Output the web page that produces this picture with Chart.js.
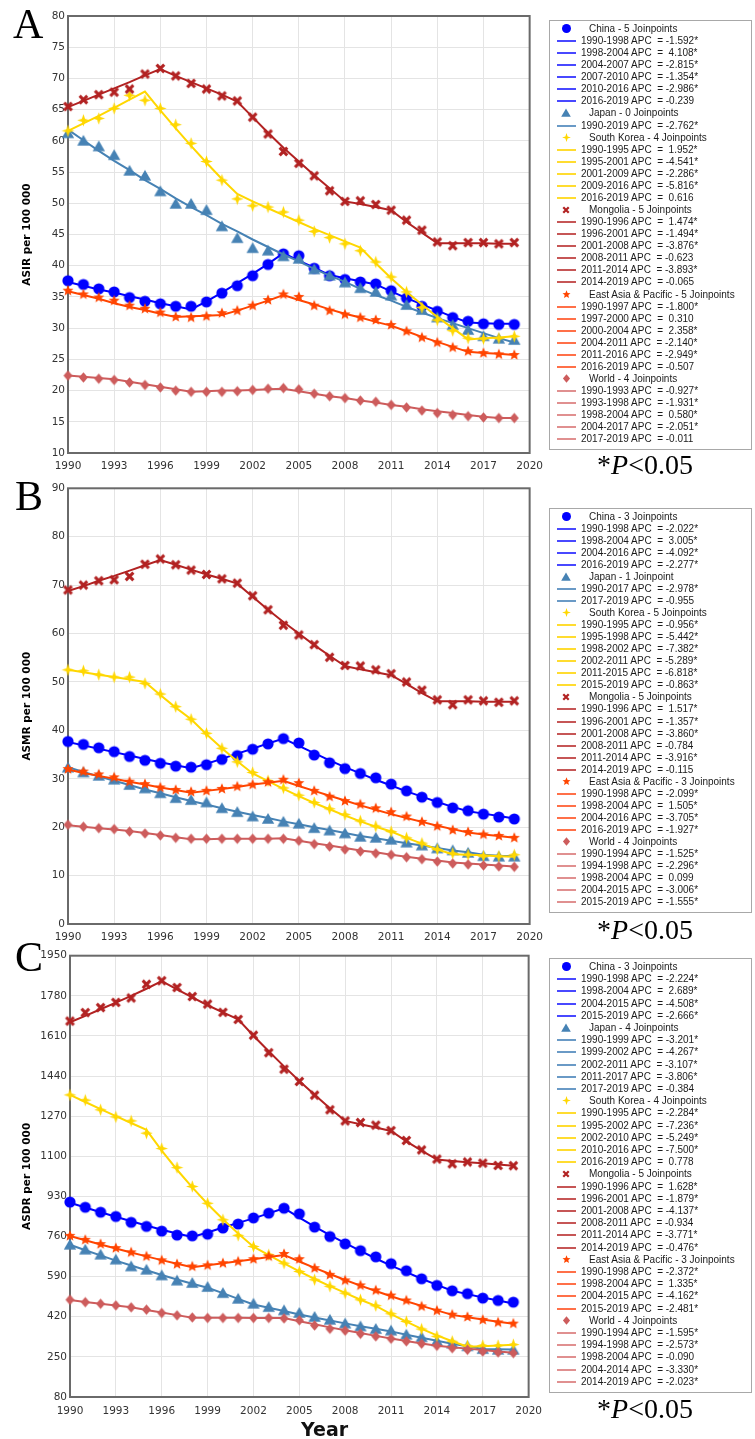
<!DOCTYPE html>
<html>
<head>
<meta charset="utf-8">
<script src="https://cdn.jsdelivr.net/npm/chart.js@4.4.0/dist/chart.umd.min.js"></script>
<style>
  body { margin: 0; width: 755px; height: 1439px; background: #fff; position: relative; overflow: hidden; }
  canvas.plot { position: absolute; left: 0; }
  .letter { position: absolute; font: 42px/42px "Liberation Serif", "Times New Roman", serif; color: #000; }
  .pnote { position: absolute; left: 545px; width: 200px; text-align: center; font: 28px/28px "Liberation Serif", "Times New Roman", serif; color: #000; }
  .year { position: absolute; left: 301px; top: 1420px; font: bold 19px/19px "DejaVu Sans", Verdana, sans-serif; color: #111; }
  .legend { position: absolute; left: 549px; width: 201px; border: 1px solid #a8a8a8; font: 10px "Liberation Sans", Arial, sans-serif; color: #1a1a1a; }
  .row { position: absolute; left: 0; right: 0; white-space: pre; }
  .row span { position: absolute; }
  .row .smp { left: 7px; width: 19px; height: 2px; }
</style>
</head>
<body>
<canvas class="plot" id="cA" width="550" height="478" style="top:0px"></canvas>
<canvas class="plot" id="cB" width="550" height="478" style="top:470px"></canvas>
<canvas class="plot" id="cC" width="550" height="499" style="top:940px"></canvas>
<div class="letter" style="left:13px;top:3px">A</div>
<div class="letter" style="left:15px;top:475px">B</div>
<div class="letter" style="left:15px;top:936px">C</div>
<div class="pnote" style="top:451px">*<i>P</i>&lt;0.05</div>
<div class="pnote" style="top:916px">*<i>P</i>&lt;0.05</div>
<div class="pnote" style="top:1395px">*<i>P</i>&lt;0.05</div>
<div class="year">Year</div>
<script>
const years = [1990,1991,1992,1993,1994,1995,1996,1997,1998,1999,2000,2001,2002,2003,2004,2005,2006,2007,2008,2009,2010,2011,2012,2013,2014,2015,2016,2017,2018,2019];
const names = ['China', 'Japan', 'South Korea', 'Mongolia', 'East Asia & Pacific', 'World'];

// A - ASIR
const chinaA = [37.6,37.0,36.3,35.8,34.9,34.3,33.9,33.5,33.5,34.2,35.6,36.8,38.4,40.2,41.9,41.6,39.6,38.4,37.8,37.4,37.1,36.0,34.8,33.5,32.7,31.7,31.1,30.7,30.6,30.6];
const chinaA_fit = [37.4,36.8,36.2,35.7,35.1,34.6,34.0,33.5,33.0,34.3,35.7,37.2,38.7,40.3,42.0,40.8,39.7,38.5,38.0,37.5,37.0,35.9,34.8,33.8,32.8,31.8,30.9,30.8,30.7,30.7];
const japanA = [61.2,60.0,59.1,57.7,55.2,54.4,51.9,49.9,49.9,48.9,46.3,44.4,42.8,42.4,41.5,41.1,39.4,38.4,37.3,36.4,35.8,35.2,33.7,32.9,31.7,30.5,29.7,28.7,28.3,28.1];
const japanA_fit = [61.8,60.1,58.4,56.8,55.3,53.7,52.3,50.8,49.4,48.1,46.7,45.5,44.2,43.0,41.8,40.7,39.5,38.4,37.4,36.3,35.3,34.4,33.4,32.5,31.6,30.8,30.0,29.2,28.4,27.7];
const koreaA = [61.6,63.3,63.6,65.2,67.3,66.5,65.2,62.6,59.6,56.7,53.7,50.7,49.6,49.4,48.6,47.3,45.5,44.5,43.5,42.4,40.6,38.2,35.8,33.3,31.3,29.6,28.4,28.3,28.4,28.7];
const koreaA_fit = [61.6,62.8,64.0,65.3,66.6,67.9,64.9,62.0,59.2,56.5,53.9,51.5,50.3,49.2,48.1,47.0,45.9,44.9,43.9,42.9,40.4,38.0,35.8,33.8,31.8,30.0,28.2,28.4,28.5,28.7];
const mongoliaA = [65.5,66.6,67.4,67.8,68.3,70.7,71.6,70.4,69.2,68.3,67.2,66.4,63.8,61.1,58.3,56.4,54.4,52.0,50.3,50.4,49.8,48.9,47.3,45.7,43.8,43.2,43.7,43.7,43.5,43.7];
const mongoliaA_fit = [65.4,66.4,67.4,68.4,69.4,70.5,71.5,70.4,69.4,68.4,67.4,66.3,63.8,61.3,58.9,56.7,54.5,52.4,50.3,49.9,49.4,48.9,47.0,45.3,43.6,43.6,43.6,43.6,43.5,43.5];
const eapA = [36.0,35.4,34.9,34.4,33.6,33.1,32.5,31.8,31.7,31.9,32.4,32.8,33.6,34.5,35.4,35.0,33.6,32.8,32.2,31.7,31.3,30.5,29.5,28.5,27.7,26.9,26.3,26.0,25.8,25.7];
const eapA_fit = [35.9,35.3,34.7,34.0,33.4,32.9,32.3,31.8,31.9,32.0,32.1,32.8,33.6,34.4,35.3,34.5,33.8,33.0,32.3,31.7,31.0,30.4,29.5,28.6,27.8,27.0,26.2,26.0,25.9,25.7];
const worldA = [22.4,22.1,21.9,21.7,21.3,20.9,20.5,20.0,19.8,19.8,19.8,19.9,20.1,20.3,20.4,20.2,19.5,19.1,18.8,18.4,18.2,17.7,17.3,16.8,16.4,16.1,15.9,15.7,15.6,15.6];
const worldA_fit = [22.4,22.2,22.0,21.8,21.4,21.0,20.6,20.2,19.8,19.9,20.0,20.0,20.1,20.2,20.3,19.9,19.5,19.1,18.8,18.4,18.1,17.7,17.4,17.0,16.7,16.4,16.1,15.8,15.6,15.6];

// B - ASMR
const chinaB = [37.7,37.1,36.4,35.6,34.6,33.8,33.2,32.6,32.4,32.9,34.0,34.8,36.1,37.2,38.3,37.4,34.9,33.3,32.1,31.1,30.2,28.9,27.5,26.2,25.1,24.0,23.4,22.7,22.1,21.7];
const chinaB_fit = [37.6,36.9,36.2,35.5,34.8,34.1,33.4,32.8,32.2,33.1,34.1,35.2,36.2,37.3,38.3,36.8,35.3,33.8,32.4,31.1,29.8,28.6,27.4,26.3,25.2,24.2,23.3,22.8,22.3,21.8];
const japanB = [32.3,31.3,30.6,29.8,28.7,28.0,27.0,26.0,25.6,25.1,23.9,23.1,22.2,21.7,21.1,20.7,19.8,19.3,18.7,18.0,17.8,17.4,16.8,16.2,15.6,15.2,14.7,14.0,13.9,13.9];
const japanB_fit = [32.4,31.4,30.5,29.6,28.7,27.8,27.0,26.2,25.4,24.7,23.9,23.2,22.5,21.9,21.2,20.6,20.0,19.4,18.8,18.2,17.7,17.2,16.7,16.2,15.7,15.2,14.8,14.3,14.1,14.0];
const koreaB = [52.5,52.3,51.5,51.0,51.0,49.7,47.5,44.9,42.3,39.4,36.3,33.5,31.3,29.6,28.1,26.6,25.1,23.8,22.6,21.3,20.2,19.1,17.8,16.7,15.4,14.6,14.3,14.0,14.0,14.3];
const koreaB_fit = [52.5,52.0,51.5,51.0,50.5,50.0,47.3,44.7,42.3,39.2,36.3,33.6,31.1,29.5,27.9,26.4,25.0,23.7,22.4,21.2,20.1,19.1,17.8,16.6,15.4,14.4,14.3,14.2,14.0,13.9];
const mongoliaB = [69.0,70.0,70.9,71.1,71.8,74.3,75.4,74.2,73.1,72.2,71.3,70.4,67.8,64.9,61.7,59.7,57.7,55.1,53.4,53.3,52.5,51.7,50.0,48.3,46.3,45.3,46.3,46.1,45.8,46.1];
const mongoliaB_fit = [68.8,69.8,70.9,71.9,73.0,74.1,75.2,74.2,73.2,72.2,71.3,70.3,67.6,64.9,62.4,60.0,57.6,55.4,53.3,52.6,52.0,51.4,49.6,47.7,46.0,46.0,46.0,45.9,45.9,45.9];
const eapB = [32.0,31.5,30.9,30.3,29.4,28.9,28.2,27.7,27.3,27.5,27.9,28.4,28.8,29.3,29.8,29.1,27.5,26.3,25.4,24.7,23.9,23.1,22.2,21.1,20.2,19.4,19.0,18.5,18.2,17.8];
const eapB_fit = [31.9,31.2,30.6,30.0,29.4,28.8,28.2,27.7,27.1,27.5,27.9,28.3,28.8,29.2,29.6,28.5,27.5,26.5,25.5,24.5,23.6,22.7,21.9,21.1,20.3,19.6,18.9,18.5,18.2,17.8];
const worldB = [20.5,20.1,19.8,19.6,19.1,18.7,18.3,17.8,17.6,17.6,17.6,17.6,17.6,17.6,17.6,17.2,16.5,16.0,15.4,15.0,14.6,14.3,13.8,13.4,12.9,12.5,12.3,12.1,11.9,11.8];
const worldB_fit = [20.4,20.1,19.8,19.5,19.2,18.8,18.4,17.9,17.5,17.5,17.6,17.6,17.6,17.6,17.7,17.2,16.7,16.2,15.7,15.2,14.8,14.3,13.9,13.5,13.1,12.7,12.5,12.3,12.1,11.9];

// C - ASDR
const chinaC = [906,884,863,845,820,803,783,766,763,770,796,813,839,859,880,856,800,760,729,700,674,645,615,581,553,530,518,499,489,482];
const chinaC_fit = [903,883,863,844,825,807,789,773,758,777,798,818,837,858,880,840,802,766,732,699,667,637,609,581,555,530,516,502,489,476];
const japanC = [725,704,683,662,633,619,595,573,563,546,520,496,475,461,447,436,419,407,391,379,368,361,344,333,316,306,295,283,280,280];
const japanC_fit = [725,702,680,658,637,617,597,578,560,543,520,496,472,458,444,430,417,404,392,380,369,358,344,331,318,306,295,283,282,281];
const koreaC = [1360,1338,1297,1267,1250,1198,1133,1052,972,901,831,765,718,683,647,612,577,549,520,492,467,433,400,368,337,316,297,298,298,302];
const koreaC_fit = [1360,1330,1300,1270,1241,1212,1124,1043,968,898,833,773,717,681,646,612,580,550,521,492,466,431,399,369,341,316,293,295,298,301];
const mongoliaC = [1673,1709,1730,1752,1771,1829,1844,1815,1777,1745,1710,1680,1613,1539,1469,1417,1359,1297,1250,1243,1232,1209,1167,1127,1088,1068,1076,1071,1061,1060];
const mongoliaC_fit = [1668,1695,1723,1751,1780,1810,1842,1807,1773,1740,1710,1680,1611,1545,1481,1419,1361,1304,1250,1236,1222,1207,1163,1124,1086,1080,1075,1070,1065,1060];
const eapC = [763,746,728,711,693,676,659,643,633,638,647,654,664,676,686,664,626,598,574,553,532,510,489,464,446,429,419,407,396,391];
const eapC_fit = [762,744,726,709,692,676,660,645,630,638,647,655,664,673,682,654,627,601,576,552,529,507,486,466,447,428,418,408,399,390];
const worldC = [492,482,475,468,460,450,436,426,417,415,415,415,415,415,413,405,383,369,361,348,337,327,316,306,297,287,280,273,269,266];
const worldC_fit = [491,483,475,468,460,449,438,427,416,416,416,416,415,415,415,401,388,375,363,351,339,328,317,307,297,291,285,279,273,267];

// joinpoint segments and APC shown in the legends
const segA = [
  ['1990-1998','1998-2004','2004-2007','2007-2010','2010-2016','2016-2019'],
  ['1990-2019'],
  ['1990-1995','1995-2001','2001-2009','2009-2016','2016-2019'],
  ['1990-1996','1996-2001','2001-2008','2008-2011','2011-2014','2014-2019'],
  ['1990-1997','1997-2000','2000-2004','2004-2011','2011-2016','2016-2019'],
  ['1990-1993','1993-1998','1998-2004','2004-2017','2017-2019']
];
const apcA = [
  ['-1.592*','4.108*','-2.815*','-1.354*','-2.986*','-0.239'],
  ['-2.762*'],
  ['1.952*','-4.541*','-2.286*','-5.816*','0.616'],
  ['1.474*','-1.494*','-3.876*','-0.623','-3.893*','-0.065'],
  ['-1.800*','0.310','2.358*','-2.140*','-2.949*','-0.507'],
  ['-0.927*','-1.931*','0.580*','-2.051*','-0.011']
];
const segB = [
  ['1990-1998','1998-2004','2004-2016','2016-2019'],
  ['1990-2017','2017-2019'],
  ['1990-1995','1995-1998','1998-2002','2002-2011','2011-2015','2015-2019'],
  ['1990-1996','1996-2001','2001-2008','2008-2011','2011-2014','2014-2019'],
  ['1990-1998','1998-2004','2004-2016','2016-2019'],
  ['1990-1994','1994-1998','1998-2004','2004-2015','2015-2019']
];
const apcB = [
  ['-2.022*','3.005*','-4.092*','-2.277*'],
  ['-2.978*','-0.955'],
  ['-0.956*','-5.442*','-7.382*','-5.289*','-6.818*','-0.863*'],
  ['1.517*','-1.357*','-3.860*','-0.784','-3.916*','-0.115'],
  ['-2.099*','1.505*','-3.705*','-1.927*'],
  ['-1.525*','-2.296*','0.099','-3.006*','-1.555*']
];
const segC = [
  ['1990-1998','1998-2004','2004-2015','2015-2019'],
  ['1990-1999','1999-2002','2002-2011','2011-2017','2017-2019'],
  ['1990-1995','1995-2002','2002-2010','2010-2016','2016-2019'],
  ['1990-1996','1996-2001','2001-2008','2008-2011','2011-2014','2014-2019'],
  ['1990-1998','1998-2004','2004-2015','2015-2019'],
  ['1990-1994','1994-1998','1998-2004','2004-2014','2014-2019']
];
const apcC = [
  ['-2.224*','2.689*','-4.508*','-2.666*'],
  ['-3.201*','-4.267*','-3.107*','-3.806*','-0.384'],
  ['-2.284*','-7.236*','-5.249*','-7.500*','0.778'],
  ['1.628*','-1.879*','-4.137*','-0.934','-3.771*','-0.476*'],
  ['-2.372*','1.335*','-4.162*','-2.481*'],
  ['-1.595*','-2.573*','-0.090','-3.330*','-2.023*']
];

const COLORS = ['#0000FF', '#4682B4', '#FFD700', '#B22222', '#FF4500', '#CD5C5C'];
const LINE_COLORS = ['#4848ff', '#6a9ac6', '#ffdc30', '#c65656', '#ff7048', '#e09090'];
const STYLES = ['circle', 'triangle', 'star4', 'cross', 'star5', 'diamond'];
const SIZES = [5.6, 5.9, 6.3, 5.3, 5.8, 5.3];
const LEG_SIZES = [4.5, 4.6, 4.4, 3.8, 4.2, 4.2];

Chart.defaults.font.family = '"DejaVu Sans", Verdana, sans-serif';

// small offscreen canvas used as point style
function marker(style, color, s) {
  const c = document.createElement('canvas');
  const n = Math.ceil(s * 2 + 4);
  c.width = n; c.height = n;
  const g = c.getContext('2d');
  const m = n / 2;
  g.fillStyle = color; g.strokeStyle = color;
  g.beginPath();
  if (style === 'circle') {
    g.arc(m, m, s, 0, Math.PI * 2);
  } else if (style === 'triangle') {
    g.moveTo(m, m - s);
    g.lineTo(m + s * 1.05, m + s * 0.8);
    g.lineTo(m - s * 1.05, m + s * 0.8);
  } else if (style === 'star4' || style === 'star5') {
    const k = style === 'star4' ? 4 : 5;
    const inner = s * (k === 4 ? 0.36 : 0.45);
    for (let i = 0; i < 2 * k; i++) {
      const r = i % 2 ? inner : s;
      const a = -Math.PI / 2 + i * Math.PI / k;
      g.lineTo(m + r * Math.cos(a), m + r * Math.sin(a));
    }
  } else if (style === 'diamond') {
    g.moveTo(m, m - s); g.lineTo(m + s * 0.85, m); g.lineTo(m, m + s); g.lineTo(m - s * 0.85, m);
  }
  if (style === 'cross') {
    g.lineWidth = s * 0.58;
    const d = s * 0.72;
    g.moveTo(m - d, m - d); g.lineTo(m + d, m + d);
    g.moveTo(m + d, m - d); g.lineTo(m - d, m + d);
    g.stroke();
  } else {
    g.closePath();
    g.fill();
  }
  return c;
}

const frame = {
  id: 'frame',
  beforeDatasetsDraw(chart) {
    const a = chart.chartArea, g = chart.ctx;
    g.save();
    g.strokeStyle = '#6a6a6a';
    g.lineWidth = 2;
    g.strokeRect(a.left, a.top, a.right - a.left, a.bottom - a.top);
    g.restore();
  }
};

const xy = vals => years.map((yr, i) => ({ x: yr, y: vals[i] }));

function panel(id, o) {
  const ds = [];
  o.obs.forEach((vals, i) => {
    ds.push({ data: xy(o.fit[i]), borderColor: COLORS[i], borderWidth: 2, pointRadius: 0, order: 20 - 2 * i, clip: false });
    ds.push({ data: xy(vals), showLine: false, pointStyle: marker(STYLES[i], COLORS[i], SIZES[i]), pointRadius: 6, order: 19 - 2 * i, clip: false });
  });
  new Chart(document.getElementById(id), {
    type: 'line',
    data: { datasets: ds },
    options: {
      responsive: false,
      animation: false,
      devicePixelRatio: 1,
      events: [],
      layout: { padding: o.pad },
      plugins: { legend: { display: false }, tooltip: { enabled: false } },
      scales: {
        x: {
          type: 'linear', min: 1990, max: 2020,
          afterFit: s => { s.height = o.xh; },
          grid: { color: '#e4e4e4', drawTicks: false },
          border: { display: false },
          ticks: { stepSize: 3, autoSkip: false, maxRotation: 0, padding: o.xpad, color: '#333', font: { size: 10.5 }, callback: v => String(v) }
        },
        y: {
          type: 'linear', min: o.min, max: o.max,
          afterFit: s => { s.width = o.yw; },
          grid: { color: '#e4e4e4', drawTicks: false },
          border: { display: false },
          ticks: { stepSize: o.step, autoSkip: false, padding: 3, color: '#333', font: { size: 10.5 }, callback: v => String(v) },
          title: { display: true, text: o.title, color: '#000', font: { size: 10.5, weight: 'bold' }, padding: { top: 21, bottom: 0 } }
        }
      }
    },
    plugins: [frame]
  });
}

panel('cA', {
  obs: [chinaA, japanA, koreaA, mongoliaA, eapA, worldA],
  fit: [chinaA_fit, japanA_fit, koreaA_fit, mongoliaA_fit, eapA_fit, worldA_fit],
  min: 10, max: 80, step: 5, title: 'ASIR per 100 000',
  pad: { top: 16, right: 17, left: 0, bottom: 0 }, xh: 25, yw: 68, xpad: 7
});
panel('cB', {
  obs: [chinaB, japanB, koreaB, mongoliaB, eapB, worldB],
  fit: [chinaB_fit, japanB_fit, koreaB_fit, mongoliaB_fit, eapB_fit, worldB_fit],
  min: 0, max: 90, step: 10, title: 'ASMR per 100 000',
  pad: { top: 18.3, right: 17, left: 0, bottom: 0 }, xh: 24, yw: 68, xpad: 7
});
panel('cC', {
  obs: [chinaC, japanC, koreaC, mongoliaC, eapC, worldC],
  fit: [chinaC_fit, japanC_fit, koreaC_fit, mongoliaC_fit, eapC_fit, worldC_fit],
  min: 80, max: 1950, step: 170, title: 'ASDR per 100 000',
  pad: { top: 15.7, right: 15, left: 0, bottom: 0 }, xh: 42, yw: 70, xpad: 8
});

function legend(top, height, lh, segs, apcs) {
  const box = document.createElement('div');
  box.className = 'legend';
  box.style.top = top + 'px';
  box.style.height = height + 'px';
  let k = 0;
  const addRow = () => {
    const r = document.createElement('div');
    r.className = 'row';
    r.style.top = Math.round(2 + k * lh) + 'px';
    r.style.height = '12px';
    r.style.lineHeight = '12px';
    box.appendChild(r);
    k++;
    return r;
  };
  names.forEach((nm, i) => {
    const n = segs[i].length - 1;
    const h = addRow();
    const mk = marker(STYLES[i], COLORS[i], LEG_SIZES[i]);
    mk.style.position = 'absolute';
    mk.style.left = Math.round(16 - mk.width / 2) + 'px';
    mk.style.top = Math.round(6 - mk.height / 2 - 0.5) + 'px';
    h.appendChild(mk);
    const t = document.createElement('span');
    t.style.left = '39px';
    t.textContent = nm + ' - ' + n + (n === 1 ? ' Joinpoint' : ' Joinpoints');
    h.appendChild(t);
    segs[i].forEach((sg, j) => {
      const r = addRow();
      const smp = document.createElement('span');
      smp.className = 'smp';
      smp.style.top = '5px';
      smp.style.background = LINE_COLORS[i];
      r.appendChild(smp);
      const a = apcs[i][j];
      const tx = document.createElement('span');
      tx.style.left = '31px';
      tx.textContent = sg + ' APC  = ' + (a[0] === '-' ? a : ' ' + a);
      r.appendChild(tx);
    });
  });
  document.body.appendChild(box);
}

legend(20, 428, 12.07, segA, apcA);
legend(508, 403, 12.03, segB, apcB);
legend(958, 433, 12.2, segC, apcC);
</script>
</body>
</html>
